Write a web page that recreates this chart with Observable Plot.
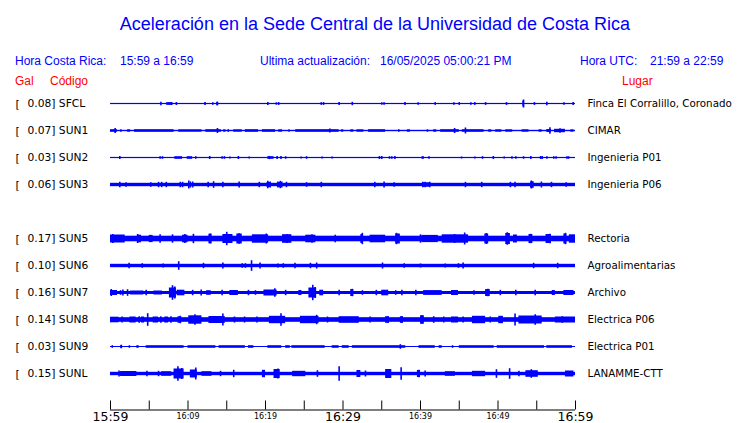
<!DOCTYPE html>
<html><head><meta charset="utf-8">
<script src="https://cdn.jsdelivr.net/npm/d3@7"></script>
<script src="https://cdn.jsdelivr.net/npm/@observablehq/plot@0.6"></script>
<style>
body{margin:0;background:#fff;}
#wrap{position:relative;width:740px;height:423px;overflow:hidden;background:#fff;}
#head{position:relative;height:88px;font-family:"Liberation Sans",Arial,sans-serif;}
.t{position:absolute;white-space:pre;line-height:1;}
.b{color:#0000ff;font-size:12px;}
.r{color:#ff0000;font-size:12px;}
#title{left:0;width:750px;text-align:center;top:15px;font-size:18px;color:#0000ff;}
#chart svg{display:block;}
</style>
</head><body>
<div id="wrap">
<div id="head">
  <div class="t" id="title">Aceleración en la Sede Central de la Universidad de Costa Rica</div>
  <div class="t b" style="left:15px;top:55px">Hora Costa Rica:</div>
  <div class="t b" style="left:120px;top:55px">15:59 a 16:59</div>
  <div class="t b" style="left:260px;top:55px">Ultima actualización:</div>
  <div class="t b" style="left:380px;top:55px">16/05/2025 05:00:21 PM</div>
  <div class="t b" style="left:580px;top:55px">Hora UTC:</div>
  <div class="t b" style="left:650px;top:55px">21:59 a 22:59</div>
  <div class="t r" style="left:15px;top:75px">Gal</div>
  <div class="t r" style="left:50px;top:75px">Código</div>
  <div class="t r" style="left:622px;top:75px">Lugar</div>
</div>
<div id="chart"></div>
</div>
<script>
// ---- data ----
const slots = ["SFCL","SUN1","SUN2","SUN3","SUN4","SUN5","SUN6","SUN7","SUN8","SUN9","SUNL"];
const stations = ["SFCL","SUN1","SUN2","SUN3","SUN5","SUN6","SUN7","SUN8","SUN9","SUNL"];
const peakGal = [0.08,0.07,0.03,0.06,0.17,0.10,0.16,0.14,0.03,0.15];
const places = ["Finca El Corralillo, Coronado","CIMAR","Ingenieria P01","Ingenieria P06","Rectoria","Agroalimentarias","Archivo","Electrica P06","Electrica P01","LANAMME-CTT"];
// background noise half-amplitude (relative units)
const baseAmp = [0.6,0.7,0.6,1.7,2.8,1.7,1.5,2.3,0.5,1.7];
// tick times (minutes after 15:59)
const tickMinutes = [0,5,10,15,20,25,30,35,40,45,50,55,60];
const bigTickMinutes = [0,30,60];
const bigTickLabels = ["15:59","16:29","16:59"];
const smallTickMinutes = [10,20,40,50];
const smallTickLabels = ["16:09","16:19","16:39","16:49"];

// bursts: [startMin, endMin, halfAmp]
const segSFCL = [[7.5,7.9,1.3],[13.7,13.9,1.7],[53.2,53.4,3.0]];
const segSUN1 = [[0,0.9,1.3],[1.3,1.5,1.2],[2.2,2.6,1.2],[3.1,8.2,1.3],[8.8,11.8,1.2],[12.3,14.3,1.3],[14.6,14.9,1.2],[15.9,17.0,1.2],[17.4,19.1,1.3],[19.6,21.3,1.3],[21.7,22.2,1.2],[23.0,23.2,1.2],[23.9,29.5,1.3],[29.8,30.1,1.2],[31.0,31.4,1.2],[31.8,32.7,1.2],[33.3,35.5,1.3],[38.3,38.7,1.2],[41.7,42.1,1.2],[42.6,45.0,1.3],[45.4,48.2,1.3],[48.8,49.2,1.2],[49.7,50.5,1.2],[51.0,51.9,1.2],[53.1,54.0,1.2],[55.3,55.7,1.2],[56.3,56.9,1.5],[57.3,58.7,1.7],[59.4,59.8,1.2]];
const segSUN2 = [[8.3,9.3,1.3],[9.9,10.6,1.3],[20.3,21.1,1.3],[40.2,40.5,1.3],[54.2,54.4,1.5]];
const segSUN3 = [[20.2,20.7,2.5],[21.6,22.1,2.5],[40.3,41.2,2.2],[54.2,54.6,3.0]];
const segSUN5 = [[0,1.9,4.0],[3.5,4.0,3.8],[5.0,5.5,3.6],[9.3,10.0,3.8],[12.7,13.1,4.8],[14.5,15.8,4.5],[16.3,17.0,5.0],[18.3,20.4,4.2],[22.2,23.4,4.3],[25.2,26.5,3.8],[32.3,32.6,4.5],[33.5,35.5,3.8],[36.8,37.4,5.0],[40.2,42.3,3.6],[42.8,46.2,4.2],[48.3,48.8,5.0],[51.0,51.6,5.5],[52.0,52.5,4.0],[54.0,54.5,4.5],[56.2,56.9,4.5],[58.5,58.9,5.0],[59.2,60,4.2]];
const segSUN6 = [];
const segSUN7 = [[0,0.9,2.5],[2.6,4.3,2.0],[5.6,6.7,2.0],[7.6,8.5,5.0],[8.6,9.6,2.8],[12.4,13.0,2.3],[15.4,16.5,2.5],[19.8,21.5,3.0],[24.3,24.7,2.5],[25.6,26.6,5.0],[27.0,27.5,2.8],[31.0,31.4,3.5],[35.0,35.9,2.8],[40.4,42.8,2.4],[44.0,44.9,2.5],[48.4,49.0,3.5],[57.0,57.4,2.5],[58.5,59.8,2.5]];
const segSUN8 = [[0,1.1,2.8],[2.5,3.3,3.0],[4.0,4.4,3.0],[5.5,6.2,3.0],[7.0,7.5,3.0],[8.7,9.2,3.2],[10.1,11.8,4.2],[12.7,14.8,3.5],[20.5,22.6,3.7],[24.5,26.9,3.7],[29.5,32.1,3.3],[35.5,36.0,3.3],[37.4,37.8,3.3],[40.0,40.5,4.2],[44.0,44.9,3.0],[46.7,48.4,3.7],[50.1,50.7,3.7],[52.7,55.7,4.0],[57.4,60,3.0]];
const segSUN9 = [[0.2,0.4,1.3],[1.3,1.5,1.3],[2.4,2.6,1.3],[3.4,3.7,1.3],[4.6,9.5,1.3],[10.0,13.6,1.3],[14.0,17.4,1.3],[17.8,18.5,1.3],[20.3,22.1,1.3],[22.6,23.2,1.3],[23.4,27.7,1.3],[28.6,29.5,1.3],[29.9,30.8,1.3],[31.2,38.1,1.3],[39.8,41.9,1.3],[42.4,42.8,1.3],[44.1,44.3,1.3],[45.0,49.5,1.3],[49.9,56.0,1.3],[56.3,59.6,1.3]];
const segSUNL = [[1.3,3.4,2.5],[6.6,7.9,2.3],[8.2,9.5,5.0],[10.3,11.2,4.0],[11.8,13.1,2.3],[19.6,20.0,3.7],[21.1,21.9,4.5],[23.5,25.2,2.7],[31.8,32.3,3.5],[35.5,36.3,4.5],[39.6,40.0,3.5],[43.2,44.5,2.3],[46.7,48.4,2.7],[53.6,55.2,3.3],[58.7,59.8,3.0]];

// spikes: [minute, halfAmp]
const spkSFCL = [[6.5,1.7],[7.3,1.5],[7.6,1.5],[7.9,1.5],[8.5,1.5],[12.2,1.5],[13.2,1.2],[13.8,1.8],[20.3,1.6],[21.4,1.2],[21.7,1.4],[27.2,1.4],[27.5,1.4],[29.5,1.4],[31.2,1.7],[35.0,1.2],[35.3,1.2],[38.0,1.4],[39.7,1.2],[41.9,1.4],[44.3,1.2],[45.0,1.4],[46.5,1.2],[47.0,1.4],[48.4,1.4],[51.1,1.4],[53.3,4.0],[54.7,1.4],[56.3,1.8],[58.5,1.2],[59.7,1.4]];
const spkSUN1 = [[0.6,2.5],[13.8,2.5],[15.2,1.3],[28.3,2.0],[37.2,1.2],[40.9,1.2],[44.4,2.5],[45.8,3.0],[56.7,3.3],[58.0,2.2]];
const spkSUN2 = [[1.2,1.5],[6.4,1.3],[6.7,1.3],[11.0,1.3],[12.8,1.5],[14.4,1.3],[14.7,1.3],[15.4,1.0],[16.5,1.5],[17.9,1.0],[20.5,1.6],[21.5,1.5],[22.0,1.5],[22.6,1.3],[24.6,1.0],[25.3,1.3],[27.3,1.0],[28.6,1.0],[34.7,1.5],[35.0,1.5],[36.0,1.3],[36.3,1.3],[36.7,1.5],[41.1,1.3],[45.3,1.0],[47.0,1.0],[48.0,1.3],[49.4,1.5],[50.8,1.0],[51.8,1.3],[52.3,1.3],[53.3,1.3],[55.5,1.5],[55.7,1.5],[56.3,1.3],[57.2,1.3],[57.5,1.3],[58.9,1.3],[59.1,1.3]];
const spkSUN3 = [[1.2,2.7],[2.0,2.3],[5.2,2.3],[6.2,2.7],[6.6,2.7],[7.2,2.7],[9.0,2.7],[9.3,2.7],[10.1,4.0],[10.3,3.0],[10.6,3.0],[12.6,2.7],[13.3,3.3],[14.5,2.7],[16.6,3.0],[19.2,2.7],[20.3,3.7],[20.6,3.0],[21.6,3.0],[21.9,3.7],[22.1,3.0],[22.7,2.7],[25.3,2.3],[27.2,2.7],[34.1,2.7],[35.3,3.0],[36.6,2.3],[40.3,2.7],[40.6,2.7],[41.2,2.7],[45.8,2.7],[47.9,2.7],[51.6,2.7],[52.2,2.7],[54.3,4.0],[54.5,3.3],[55.6,3.0],[56.9,2.7],[58.8,2.3]];
const spkSUN5 = [[0.3,4.5],[3.5,4.5],[6.4,4.2],[8.0,4.2],[9.6,4.5],[10.7,4.7],[12.9,5.0],[15.0,6.7],[16.6,5.3],[20.1,5.0],[22.8,4.5],[26.0,4.2],[29.0,3.8],[32.5,5.7],[36.9,5.7],[40.0,4.2],[44.4,4.5],[45.7,6.0],[48.5,5.5],[51.2,6.3],[54.2,4.7],[56.7,4.7],[58.7,5.7]];
const spkSUN6 = [[2.4,2.7],[4.1,2.3],[6.8,2.0],[8.8,4.3],[12.0,2.7],[14.5,3.0],[17.0,2.3],[17.4,2.3],[18.2,5.3],[19.3,3.0],[21.6,2.0],[22.3,2.3],[23.8,2.7],[25.8,2.7],[26.6,3.0],[35.1,3.0],[37.9,2.3],[40.0,2.0],[43.2,2.0],[44.9,2.3],[45.5,3.0],[54.6,2.7],[57.7,2.7]];
const spkSUN7 = [[0.1,3.5],[1.3,2.3],[1.6,3.0],[2.2,3.3],[4.6,2.7],[8.0,7.3],[8.3,6.0],[10.6,2.7],[11.7,3.0],[14.4,2.7],[17.8,2.7],[18.7,2.3],[21.2,4.3],[22.6,2.7],[26.1,7.7],[26.4,5.5],[29.5,2.7],[31.2,3.7],[32.5,2.3],[34.3,2.7],[36.8,2.3],[37.6,2.7],[39.4,2.7],[46.9,2.3],[48.7,3.7],[50.3,2.7],[52.3,2.7],[54.8,2.7]];
const spkSUN8 = [[1.5,3.0],[3.7,3.3],[4.8,6.3],[6.5,3.3],[7.8,3.3],[9.0,3.7],[10.9,5.3],[14.5,6.0],[16.0,3.0],[17.3,3.0],[18.9,3.0],[22.0,6.3],[26.6,4.7],[28.0,3.0],[33.5,3.0],[35.8,3.3],[37.6,3.3],[40.2,4.3],[41.7,3.3],[43.0,3.0],[45.5,3.0],[49.0,3.0],[52.2,6.0],[54.8,5.3],[58.3,3.3]];
const spkSUN9 = [[1.4,1.8],[37.4,2.3]];
const spkSUNL = [[1.1,3.0],[4.7,2.7],[6.2,2.7],[8.7,7.3],[9.2,5.5],[11.0,6.0],[14.2,2.7],[15.9,3.7],[21.6,5.0],[26.7,3.3],[29.5,7.3],[32.9,3.0],[37.5,6.3],[39.8,3.7],[40.6,3.0],[49.8,4.3],[51.5,5.3],[52.7,2.7],[54.3,4.3]];

// ---- build ----
const segsBy = {SFCL:segSFCL,SUN1:segSUN1,SUN2:segSUN2,SUN3:segSUN3,SUN5:segSUN5,SUN6:segSUN6,SUN7:segSUN7,SUN8:segSUN8,SUN9:segSUN9,SUNL:segSUNL};
const spkBy = {SFCL:spkSFCL,SUN1:spkSUN1,SUN2:spkSUN2,SUN3:spkSUN3,SUN5:spkSUN5,SUN6:spkSUN6,SUN7:spkSUN7,SUN8:spkSUN8,SUN9:spkSUN9,SUNL:spkSUNL};
const ROW = 27;
const rowOf = new Map(slots.map((c, i) => [c, i * ROW]));
const base = stations.map((c, i) => ({code: c, a: baseAmp[i], gal: peakGal[i], place: places[i]}));
const segs = stations.flatMap(c => segsBy[c].map(([m1, m2, a]) => ({code: c, m1, m2, a})));
const spikes = stations.flatMap(c => spkBy[c].map(([m, a]) => ({code: c, m, a})));
const AXIS = 10 * ROW + 36;
const blue = "#0000ff";

const chart = Plot.plot({
  width: 740,
  height: 335,
  marginTop: 0,
  marginLeft: 110,
  marginRight: 165,
  marginBottom: 13.5,
  style: {fontFamily: "DejaVu Sans", fontSize: "11px", background: "white"},
  x: {domain: [0, 60], axis: null},
  y: {domain: [AXIS, -15.5], axis: null},
  marks: [
    Plot.rect(base, {x1: 0, x2: 60, y1: d => rowOf.get(d.code) - d.a, y2: d => rowOf.get(d.code) + d.a, fill: blue}),
    Plot.rect(segs, {x1: "m1", x2: "m2", y1: d => rowOf.get(d.code) - d.a, y2: d => rowOf.get(d.code) + d.a, fill: blue}),
    Plot.ruleX(spikes, {x: "m", y1: d => rowOf.get(d.code) - d.a, y2: d => rowOf.get(d.code) + d.a, stroke: blue, strokeWidth: 1.6}),
    Plot.text(base, {x: 0, y: d => rowOf.get(d.code), text: () => "[", textAnchor: "start", dx: -95, fill: "black", fontSize: 11}),
    Plot.text(base, {x: 0, y: d => rowOf.get(d.code), text: d => d.gal.toFixed(2) + "] " + d.code, textAnchor: "start", dx: -83, fill: "black", fontSize: 10.7}),
    Plot.text(base, {x: 60, y: d => rowOf.get(d.code), text: "place", textAnchor: "start", dx: 12, fill: "black", fontSize: 10.3}),
    Plot.ruleY([AXIS], {stroke: "black"}),
    Plot.ruleX(tickMinutes, {y1: AXIS, y2: AXIS - 9, stroke: "black"}),
    Plot.text(bigTickMinutes, {x: d => d, y: AXIS, text: (d, i) => bigTickLabels[i], dy: 7, fontSize: 12.5, fill: "black"}),
    Plot.text(smallTickMinutes, {x: d => d, y: AXIS, text: (d, i) => smallTickLabels[i], dy: 6, fontSize: 8, fill: "black"})
  ]
});
document.getElementById("chart").appendChild(chart);
</script>
</body></html>
